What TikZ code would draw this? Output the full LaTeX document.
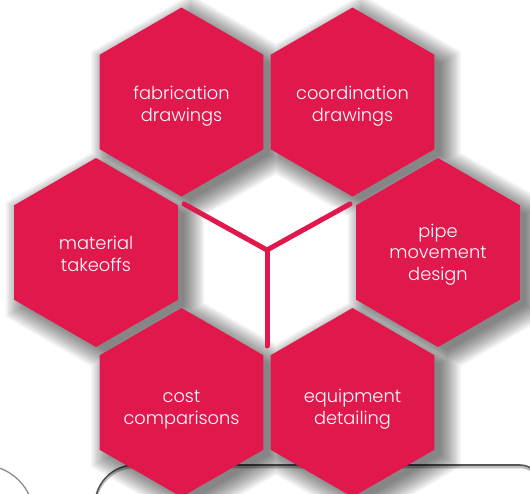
\documentclass[tikz,border=0pt]{standalone}
\usepackage{fontspec}
\setmainfont{Poppins}[UprightFont=* Light]
\usetikzlibrary{shapes.geometric}
\definecolor{hexred}{HTML}{E1184B}
\definecolor{rimgray}{HTML}{555555}
\tikzset{
  hexbox/.style={shape=regular polygon, regular polygon sides=6, shape border rotate=30,
    minimum size=189pt, inner sep=0pt, fill=hexred, draw=none},
  hextext/.style={inner sep=0pt, text=white, align=center,
    font=\fontsize{17.8pt}{21.8pt}\selectfont},
  spoke/.style={draw=hexred, line width=5pt, line cap=round},
  rim/.style={draw=rimgray, line width=1.6pt},
  rimshade/.style={draw=black!25, line width=2.5pt},
}
\newcommand{\hexat}[3]{({#1},{#2-#3}) -- ({#1-0.866*#3},{#2-0.5*#3}) -- ({#1-0.866*#3},{#2+0.5*#3}) -- ({#1},{#2+#3}) -- ({#1+0.866*#3},{#2+0.5*#3}) -- ({#1+0.866*#3},{#2-0.5*#3}) -- cycle}
\begin{document}
\begin{tikzpicture}[x=1pt,y=-1pt]
\useasboundingbox (0,0) rectangle (530,493);
\clip (0,0) rectangle (530,493);
% background outlines
\draw[draw=black!45, line width=1.3pt] (-18,517) circle (52);
\draw[rimshade, rounded corners=40pt] (95,532) -- (95,467) -- (330,467);
\draw[rimshade, rounded corners=20pt] (300,467) -- (540,467) -- (540,532);
\draw[rim, rounded corners=40pt] (95,530) -- (95,465) -- (330,465);
\draw[rim, rounded corners=20pt] (300,465) -- (540,465) -- (540,530);
% soft shadow (union of all six hexagons per layer)
\foreach \k in {0,...,17}{%
  \pgfmathsetmacro\rr{91+1.4*\k}
  \fill[black, opacity=0.034]
    \hexat{190.5}{109}{\rr} \hexat{361.5}{109}{\rr}
    \hexat{105}{259.5}{\rr} \hexat{447}{259.5}{\rr}
    \hexat{190.5}{409.5}{\rr} \hexat{361.5}{409.5}{\rr};
}
% hexagons
\node[hexbox] (fab) at (181.5,102) {};
\node[hexbox] (coord) at (352.5,102) {};
\node[hexbox] (mat) at (96,252.5) {};
\node[hexbox] (pipe) at (438,252.5) {};
\node[hexbox] (cost) at (181.5,402.5) {};
\node[hexbox] (equip) at (352.5,402.5) {};
% labels
\node[hextext] (fabT) at (181.5,106) {fabrication\\drawings};
\node[hextext] (coordT) at (352.5,106) {coordination\\drawings};
\node[hextext] (matT) at (96,253.5) {material\\takeoffs};
\node[hextext] (pipeT) at (438,254.5) {pipe\\movement\\design};
\node[hextext] (costT) at (181.5,410) {cost\\comparisons};
\node[hextext] (equipT) at (352.5,409) {equipment\\detailing};
% center spokes
\coordinate (hub) at (267,250);
\coordinate (armL) at (184,204);
\coordinate (armR) at (350,204);
\coordinate (armB) at (267,346);
\draw[spoke] (armL) -- (hub) -- (armR);
\draw[spoke] (hub) -- (armB);
\end{tikzpicture}
\end{document}
